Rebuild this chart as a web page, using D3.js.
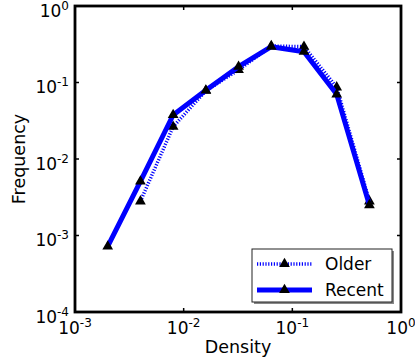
<!DOCTYPE html>
<html><head><meta charset="utf-8">
<script src="https://cdnjs.cloudflare.com/ajax/libs/d3/7.8.5/d3.min.js"></script>
<style>body{margin:0;background:#fff}svg{display:block}text{font-family:"DejaVu Sans",sans-serif;fill:#000}</style>
</head><body><svg id="c" width="415" height="363"></svg>
<script>
const recentDensity = [0.002, 0.004, 0.008, 0.016, 0.032, 0.064, 0.128, 0.256, 0.512];
const recentFreq    = [0.00072, 0.0051, 0.0376, 0.079, 0.161, 0.294, 0.253, 0.070, 0.0025];
const olderDensity  = [0.004, 0.008, 0.016, 0.032, 0.064, 0.128, 0.256, 0.512];
const olderFreq     = [0.0028, 0.0264, 0.078, 0.146, 0.30, 0.294, 0.0865, 0.0028];
const xTickExps = [-3, -2, -1, 0];
const yTickExps = [-4, -3, -2, -1, 0];
const seriesNames = ["Older", "Recent"];

const svg = d3.select("#c");
const L = 75, R = 401, T = 6, B = 312;
const x = d3.scaleLog().domain([1e-3, 1]).range([L, R]);
const y = d3.scaleLog().domain([1e-4, 1]).range([B, T]);

const line = d3.line().x(d => x(d[0])).y(d => y(d[1]));
const tri = d3.symbol().type(d3.symbolTriangle).size(50);

const older = olderDensity.map((d, i) => [d, olderFreq[i]]);
const recent = recentDensity.map((d, i) => [d, recentFreq[i]]);

const olderStyle = {stroke: "#0000ff", width: 3.5, dash: "1.2,1.6"};
const recentStyle = {stroke: "#0000ff", width: 5, dash: null};

function drawSeries(data, st) {
  svg.append("path").datum(data).attr("d", line)
    .attr("fill", "none").attr("stroke", st.stroke).attr("stroke-width", st.width)
    .attr("stroke-dasharray", st.dash).attr("stroke-linejoin", "round");
  svg.append("g").selectAll("path").data(data).join("path")
    .attr("d", tri).attr("transform", d => `translate(${x(d[0])},${y(d[1])})`)
    .attr("fill", "#000");
}
drawSeries(older, olderStyle);
drawSeries(recent, recentStyle);

// ticks (inward, all sides)
const tk = svg.append("g").attr("stroke", "#000").attr("stroke-width", 1.5);
xTickExps.forEach(e => {
  const px = x(Math.pow(10, e));
  tk.append("line").attr("x1", px).attr("x2", px).attr("y1", B).attr("y2", B - 4);
  tk.append("line").attr("x1", px).attr("x2", px).attr("y1", T).attr("y2", T + 4);
});
yTickExps.forEach(e => {
  const py = y(Math.pow(10, e));
  tk.append("line").attr("x1", L).attr("x2", L + 4).attr("y1", py).attr("y2", py);
  tk.append("line").attr("x1", R).attr("x2", R - 4).attr("y1", py).attr("y2", py);
});

// frame
svg.append("rect").attr("x", L).attr("y", T).attr("width", R - L).attr("height", B - T)
  .attr("fill", "none").attr("stroke", "#000").attr("stroke-width", 2.8);

// tick labels
xTickExps.forEach(e => {
  const t = svg.append("text").attr("x", x(Math.pow(10, e))).attr("y", 334)
    .attr("text-anchor", "middle").attr("font-size", 17);
  t.append("tspan").text("10");
  t.append("tspan").attr("dy", -7).attr("font-size", 12).text(String(e));
});
yTickExps.forEach(e => {
  const t = svg.append("text").attr("x", 69).attr("y", y(Math.pow(10, e)) + 10.5)
    .attr("text-anchor", "end").attr("font-size", 17);
  t.append("tspan").text("10");
  t.append("tspan").attr("dy", -7).attr("font-size", 12).text(String(e));
});

// axis titles
svg.append("text").attr("x", (L + R) / 2).attr("y", 353).attr("text-anchor", "middle")
  .attr("font-size", 17.5).text("Density");
svg.append("text").attr("transform", `translate(25,${(T + B) / 2}) rotate(-90)`)
  .attr("text-anchor", "middle").attr("font-size", 17.5).text("Frequency");

// legend
const lg = svg.append("g");
lg.append("rect").attr("x", 254).attr("y", 251).attr("width", 140).attr("height", 53).attr("fill", "#888");
lg.append("rect").attr("x", 252).attr("y", 249).attr("width", 140).attr("height", 53)
  .attr("fill", "#fff").attr("stroke", "#222").attr("stroke-width", 1);
const styles = [olderStyle, recentStyle];
seriesNames.forEach((name, i) => {
  const cy = 264 + i * 26;
  const st = styles[i];
  lg.append("line").attr("x1", 257).attr("x2", 312).attr("y1", cy).attr("y2", cy)
    .attr("stroke", st.stroke).attr("stroke-width", st.width).attr("stroke-dasharray", st.dash);
  lg.append("path").attr("d", tri).attr("transform", `translate(284.5,${cy})`).attr("fill", "#000");
  lg.append("text").attr("x", 325).attr("y", cy + 6).attr("font-size", 17).text(name);
});
</script></body></html>
